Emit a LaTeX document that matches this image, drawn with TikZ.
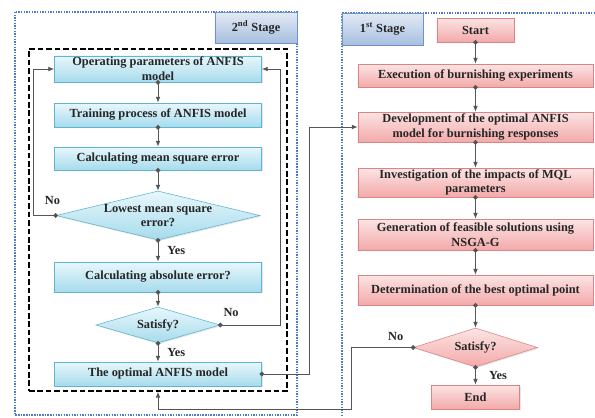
\documentclass[tikz,border=0pt]{standalone}
\usepackage{fontspec}
\setmainfont{Liberation Serif}
\usepackage{xcolor}
\usepackage{tikz}
\usetikzlibrary{shapes.geometric, arrows.meta, shadows}
\definecolor{cyantop}{HTML}{E8F7FC}
\definecolor{cyanbot}{HTML}{A6DBEC}
\definecolor{cyanline}{HTML}{5DB5CF}
\definecolor{pinktop}{HTML}{FCE4E4}
\definecolor{pinkbot}{HTML}{F3A9A9}
\definecolor{pinkline}{HTML}{D98585}
\definecolor{stagetop}{HTML}{E3EAF5}
\definecolor{stagebot}{HTML}{A7BFDF}
\definecolor{stageline}{HTML}{6F93C8}
\definecolor{frameblue}{HTML}{4A7CC7}
\definecolor{linegray}{HTML}{555555}
\definecolor{textgray}{HTML}{262626}

\begin{document}
\begin{tikzpicture}[x=0.025cm, y=-0.025cm,
    font=\fontsize{8.8}{10.5}\selectfont\bfseries, text=textgray,
    lbox/.style={rectangle, draw=cyanline, top color=cyantop, bottom color=cyanbot, minimum width=5.175cm, inner sep=1pt, align=center, drop shadow={shadow xshift=0.8pt, shadow yshift=-0.8pt, opacity=0.2}},
    rbox/.style={rectangle, draw=pinkline, top color=pinktop, bottom color=pinkbot, minimum width=5.875cm, inner sep=1pt, align=center, drop shadow={shadow xshift=0.8pt, shadow yshift=-0.8pt, opacity=0.2}},
    ldiam/.style={diamond, draw=cyanline, top color=cyantop, bottom color=cyanbot, inner sep=0pt, drop shadow={shadow xshift=0.8pt, shadow yshift=-0.8pt, opacity=0.2}},
    rdiam/.style={diamond, draw=pinkline, top color=pinktop, bottom color=pinkbot, inner sep=0pt, drop shadow={shadow xshift=0.8pt, shadow yshift=-0.8pt, opacity=0.2}},
    stagebox/.style={rectangle, draw=stageline, top color=stagetop, bottom color=stagebot, inner sep=1pt, drop shadow={shadow xshift=0.8pt, shadow yshift=-0.8pt, opacity=0.25}},
    frame/.style={draw=frameblue, line width=1pt, dash pattern=on 1pt off 0.9pt},
    arrow/.style={{Circle[length=3.3pt]}-{Latex[length=4.2pt, width=3.4pt]}, draw=linegray, line width=0.6pt, shorten <=-1.65pt}
]
\path[use as bounding box] (0,0) rectangle (595,417);

% stage frames
\draw[frame] (15,12) rectangle (297,415);
\draw[frame] (595,13) -- (342,13) -- (342,417);
\node[rectangle, draw=black, line width=1pt, dash pattern=on 4pt off 2pt, minimum width=6.45cm, minimum height=8.55cm] (inner) at (158,220) {};

\node[stagebox, minimum width=2.05cm, minimum height=0.775cm] (stage2) at (256,27.5) {2\textsuperscript{nd} Stage};
\node[stagebox, minimum width=2.025cm, minimum height=0.8cm] (stage1) at (382.5,29) {1\textsuperscript{st} Stage};

% 2nd stage
\node[lbox, minimum height=0.65cm] (oper) at (158,69) {Operating parameters of ANFIS\\model};
\node[lbox, minimum height=0.6cm] (train) at (158,115) {Training process of ANFIS model};
\node[lbox, minimum height=0.575cm] (mse) at (158,158.5) {Calculating mean square error};
\node[ldiam, minimum width=5.1cm, minimum height=1.225cm, label={[align=center]center:Lowest mean square\\error?}] (lowest) at (158,215.5) {};
\node[lbox, minimum height=0.75cm] (abserr) at (158,277) {Calculating absolute error?};
\node[ldiam, minimum width=3.1cm, minimum height=0.9cm, label={center:Satisfy?}] (satA) at (158,325) {};
\node[lbox, minimum height=0.6cm] (optimal) at (158,374) {The optimal ANFIS model};

% 1st stage
\node[rbox, minimum width=1.925cm, minimum height=0.6cm] (start) at (475.5,30) {Start};
\node[rbox, minimum height=0.575cm] (exper) at (475.5,75.5) {Execution of burnishing experiments};
\node[rbox, minimum height=0.75cm] (develop) at (475.5,127) {Development of the optimal ANFIS\\model for burnishing responses};
\node[rbox, minimum height=0.725cm] (impact) at (475.5,182.5) {Investigation of the impacts of MQL\\parameters};
\node[rbox, minimum height=0.775cm] (nsga) at (475.5,234.5) {Generation of feasible solutions using\\NSGA-G};
\node[rbox, minimum height=0.75cm] (best) at (475.5,290) {Determination of the best optimal point};
\node[rdiam, minimum width=3.1cm, minimum height=0.975cm, label={center:Satisfy?}] (satB) at (475.5,347.5) {};
\node[rbox, minimum width=2.2cm, minimum height=0.6cm] (finish) at (475.5,397) {End};
\coordinate (back) at (351,409);

\draw[arrow] (oper) -- (train);
\draw[arrow] (train) -- (mse);
\draw[arrow] (mse) -- (lowest);
\draw[arrow] (lowest) -- node[right=3pt] {Yes} (abserr);
\draw[arrow] (lowest.west) -- node[pos=0.15, above=4pt] {No} ++(-22,0) |- (oper.west);
\draw[arrow] (abserr) -- (satA);
\draw[arrow] (satA) -- node[right=3pt] {Yes} (optimal);
\draw[arrow] (satA.east) -- node[pos=0.18, above=2pt] {No} ++(60,0) |- (oper.east);
\draw[arrow] (optimal.east) -- ++(48,0) |- (develop.west);

\draw[arrow] (start) -- (exper);
\draw[arrow] (exper) -- (develop);
\draw[arrow] (develop) -- (impact);
\draw[arrow] (impact) -- (nsga);
\draw[arrow] (nsga) -- (best);
\draw[arrow] (best) -- (satB);
\draw[arrow] (satB) -- node[right=6pt] {Yes} (finish);
\draw[arrow] (satB.west) -- node[pos=0.28, above=1pt] {No} (satB.west -| back) -- (back) -| (inner.south);

\end{tikzpicture}
\end{document}
